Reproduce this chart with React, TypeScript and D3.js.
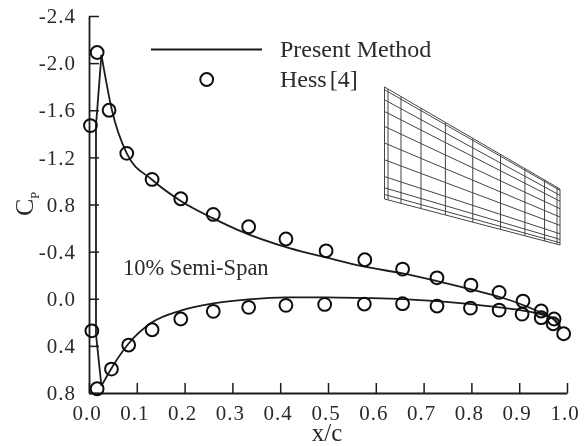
import * as d3 from "d3";
import { useEffect, useRef } from "react";

const upperLineX = [0.0146, 0.026, 0.048, 0.079, 0.132, 0.192, 0.26, 0.312, 0.421, 0.496, 0.577, 0.656, 0.728, 0.799, 0.858, 0.908, 0.946, 0.973, 0.987];
const upperLineCp = [-1.47, -2.07, -1.6, -1.234, -1.01, -0.83, -0.682, -0.583, -0.428, -0.351, -0.272, -0.215, -0.15, -0.08, -0.017, 0.053, 0.12, 0.18, 0.25];
const lowerLineX = [0.0146, 0.026, 0.05, 0.083, 0.132, 0.192, 0.26, 0.334, 0.412, 0.496, 0.577, 0.656, 0.728, 0.799, 0.858, 0.908, 0.946, 0.973, 0.987];
const lowerLineCp = [0.3, 0.74, 0.57, 0.38, 0.2, 0.1, 0.04, 0.005, -0.012, -0.012, -0.006, 0.003, 0.02, 0.045, 0.073, 0.1, 0.132, 0.172, 0.25];

const hessUpperX = [0.003, 0.017, 0.042, 0.079, 0.132, 0.192, 0.26, 0.334, 0.412, 0.496, 0.577, 0.656, 0.728, 0.799, 0.858, 0.908, 0.946, 0.973, 0.993];
const hessUpperCp = [-1.47, -2.09, -1.6, -1.234, -1.013, -0.849, -0.716, -0.611, -0.507, -0.407, -0.331, -0.252, -0.178, -0.116, -0.054, 0.02, 0.104, 0.172, 0.297];
const hessLowerX = [0.006, 0.017, 0.047, 0.083, 0.132, 0.192, 0.26, 0.334, 0.412, 0.493, 0.576, 0.656, 0.728, 0.798, 0.858, 0.906, 0.946, 0.971];
const hessLowerCp = [0.272, 0.764, 0.597, 0.393, 0.263, 0.172, 0.107, 0.073, 0.056, 0.048, 0.045, 0.042, 0.062, 0.079, 0.096, 0.13, 0.161, 0.212];

const xTicks = [0, 0.1, 0.2, 0.3, 0.4, 0.5, 0.6, 0.7, 0.8, 0.9, 1];
const yTicks = [-2.4, -2, -1.6, -1.2, -0.8, -0.4, 0, 0.4, 0.8];
const yTickLabels = ["-2.4", "-2.0", "-1.6", "-1.2", "0.8", "-0.4", "0.0", "0.4", "0.8"];

// wing panel stations, as fractions of the chord and of the span
const chordStations = [0, 0.02, 0.094, 0.208, 0.347, 0.503, 0.661, 0.8, 0.912, 0.983, 1];
const spanStations = [0, 0.024, 0.114, 0.218, 0.352, 0.5, 0.65, 0.8, 0.9, 0.96, 1];

const ink = "#1c1c1c";
const textInk = "#2a2a2a";
const fontFamily = "'Liberation Serif', serif";

export default function App() {
  const svgRef = useRef<SVGSVGElement | null>(null);

  useEffect(() => {
    const root = d3.select(svgRef.current);
    root.selectAll("*").remove();

    // the source is a soft scan, a small blur gets the same edges
    root
      .append("defs")
      .append("filter")
      .attr("id", "soft")
      .append("feGaussianBlur")
      .attr("stdDeviation", 0.45);
    const svg = root.append("g").attr("filter", "url(#soft)");

    const x = d3.scaleLinear().domain([0, 1]).range([89, 567]);
    const y = d3.scaleLinear().domain([-2.4, 0.8]).range([16, 393]);

    const xAxis = d3
      .axisBottom(x)
      .tickValues(xTicks)
      .tickSizeInner(-10)
      .tickSizeOuter(0)
      .tickPadding(12)
      .tickFormat(d3.format(".1f") as any);
    const yAxis = d3
      .axisLeft(y)
      .tickValues(yTicks)
      .tickSizeInner(-10)
      .tickSizeOuter(0)
      .tickPadding(13)
      .tickFormat((_, i) => yTickLabels[i]);

    const gx = svg.append("g").attr("transform", "translate(0,393)").call(xAxis);
    const gy = svg.append("g").attr("transform", "translate(89,0)").call(yAxis);

    [gx, gy].forEach((g) => {
      g.select(".domain").attr("stroke", ink).attr("stroke-width", 1.8);
      g.selectAll(".tick line").attr("stroke", ink).attr("stroke-width", 1.5);
      g.selectAll("text")
        .attr("fill", textInk)
        .attr("font-family", fontFamily)
        .attr("font-size", 21)
        .attr("letter-spacing", 1);
    });
    gx.selectAll("text").attr("dx", -2.5);

    const curve = (xs: number[], ys: number[]) =>
      d3
        .line<number>()
        .curve(d3.curveMonotoneX)
        .x((d) => x(d))
        .y((_, i) => y(ys[i]))(xs);
    const drawLine = (d: string | null) =>
      svg
        .append("path")
        .attr("d", d)
        .attr("fill", "none")
        .attr("stroke", ink)
        .attr("stroke-width", 1.8);

    // solution, the kinks near the leading edge stay straight
    drawLine(curve(upperLineX.slice(1), upperLineCp.slice(1)));
    drawLine(curve(lowerLineX.slice(1), lowerLineCp.slice(1)));
    drawLine(
      d3.line()([
        [x(upperLineX[1]), y(upperLineCp[1])],
        [x(upperLineX[0]), y(upperLineCp[0])],
        [x(lowerLineX[0]), y(lowerLineCp[0])],
        [x(lowerLineX[1]), y(lowerLineCp[1])],
      ])
    );

    // Hess points
    const circles = (xs: number[], ys: number[]) =>
      svg
        .append("g")
        .selectAll("circle")
        .data(xs)
        .join("circle")
        .attr("cx", (d) => x(d))
        .attr("cy", (_, i) => y(ys[i]))
        .attr("r", 6.4)
        .attr("fill", "none")
        .attr("stroke", "#111")
        .attr("stroke-width", 2);
    circles(hessUpperX, hessUpperCp);
    circles(hessLowerX, hessLowerCp);

    // legend
    svg
      .append("line")
      .attr("x1", 151)
      .attr("x2", 262)
      .attr("y1", 49.5)
      .attr("y2", 49.5)
      .attr("stroke", ink)
      .attr("stroke-width", 1.8);
    svg
      .append("circle")
      .attr("cx", 206.7)
      .attr("cy", 79.5)
      .attr("r", 6.4)
      .attr("fill", "none")
      .attr("stroke", "#111")
      .attr("stroke-width", 2);

    const label = (text: string, px: number, py: number, size: number) =>
      svg
        .append("text")
        .attr("x", px)
        .attr("y", py)
        .attr("fill", textInk)
        .attr("font-family", fontFamily)
        .attr("font-size", size)
        .text(text);

    label("Present Method", 280, 57, 24);
    label("Hess [4]", 280, 87, 24).attr("word-spacing", -3);
    label("10% Semi-Span", 123, 275, 22.5);
    label("x/c", 327, 441, 25).attr("text-anchor", "middle");

    const cp = svg.append("g").attr("transform", "translate(33,216) rotate(-90)");
    cp.append("text")
      .attr("fill", textInk)
      .attr("font-family", fontFamily)
      .attr("font-size", 26)
      .text("C");
    cp.append("text")
      .attr("x", 17)
      .attr("y", 6)
      .attr("fill", textInk)
      .attr("font-family", fontFamily)
      .attr("font-size", 13)
      .text("P");

    // wing panel inset
    const meshX = d3.scaleLinear().domain([0, 1]).range([384.5, 560]);
    const meshTop = d3.scaleLinear().domain([0, 1]).range([87, 189]);
    const meshBottom = d3.scaleLinear().domain([0, 1]).range([199, 245]);
    const meshY = (chord: number, span: number) =>
      d3.interpolateNumber(meshTop(chord), meshBottom(chord))(span);

    const mesh = svg.append("g").attr("stroke", "#444").attr("stroke-width", 1);
    mesh
      .selectAll("line.chord")
      .data(chordStations)
      .join("line")
      .attr("class", "chord")
      .attr("x1", (d) => meshX(d))
      .attr("x2", (d) => meshX(d))
      .attr("y1", (d) => meshY(d, 0))
      .attr("y2", (d) => meshY(d, 1));
    mesh
      .selectAll("line.span")
      .data(spanStations)
      .join("line")
      .attr("class", "span")
      .attr("x1", meshX(0))
      .attr("x2", meshX(1))
      .attr("y1", (d) => meshY(0, d))
      .attr("y2", (d) => meshY(1, d));
  }, []);

  return (
    <svg
      ref={svgRef}
      width={587}
      height={446}
      style={{ position: "absolute", left: 0, top: 0, background: "#fff" }}
    />
  );
}
